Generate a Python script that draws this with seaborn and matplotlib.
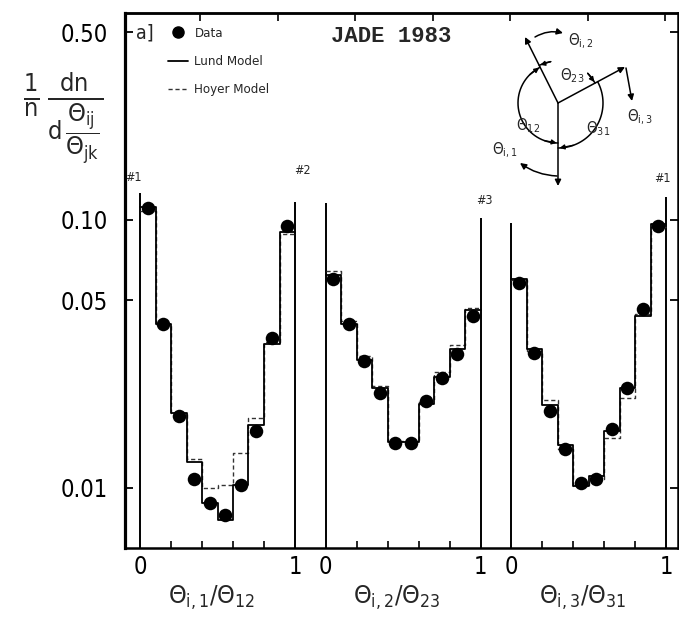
import numpy as np
import pandas as pd
import matplotlib
matplotlib.use("Agg")
import matplotlib.pyplot as plt
import matplotlib.transforms as mtransforms
from matplotlib.lines import Line2D
import seaborn as sns

# ---------------- data ----------------
bin_edges = [0.0, 0.1, 0.2, 0.3, 0.4, 0.5, 0.6, 0.7, 0.8, 0.9, 1.0]
bin_centers = [0.05, 0.15, 0.25, 0.35, 0.45, 0.55, 0.65, 0.75, 0.85, 0.95]
panel_offsets = [0.0, 1.197, 2.394]
panel_xlabels = [r"$\Theta_{\mathrm{i,1}}/\Theta_{\mathrm{12}}$",
                 r"$\Theta_{\mathrm{i,2}}/\Theta_{\mathrm{23}}$",
                 r"$\Theta_{\mathrm{i,3}}/\Theta_{\mathrm{31}}$"]

data_p1 = [0.110, 0.0409, 0.0186, 0.0108, 0.0088, 0.0079, 0.0103, 0.0163, 0.0363, 0.095]
data_p2 = [0.0602, 0.0409, 0.0298, 0.0226, 0.0147, 0.0147, 0.0211, 0.0257, 0.0316, 0.0439]
data_p3 = [0.0582, 0.0319, 0.0194, 0.0140, 0.0104, 0.0108, 0.0166, 0.0236, 0.0466, 0.095]

lund_p1 = [0.111, 0.0410, 0.0190, 0.0125, 0.0088, 0.0076, 0.0103, 0.0172, 0.0345, 0.090]
lund_p2 = [0.0620, 0.0410, 0.0300, 0.0235, 0.0148, 0.0148, 0.0205, 0.0260, 0.0330, 0.0460]
lund_p3 = [0.0600, 0.0330, 0.0203, 0.0144, 0.0102, 0.0111, 0.0163, 0.0236, 0.0439, 0.0966]

hoyer_p1 = [0.108, 0.0410, 0.0190, 0.0128, 0.0100, 0.0103, 0.0135, 0.0183, 0.0350, 0.088]
hoyer_p2 = [0.0645, 0.0420, 0.0310, 0.0240, 0.0150, 0.0150, 0.0210, 0.0270, 0.0340, 0.0470]
hoyer_p3 = [0.0595, 0.0325, 0.0212, 0.0140, 0.0102, 0.0108, 0.0154, 0.0217, 0.0445, 0.0940]

edge_line_tops = [(0.126, 0.116), (0.115, 0.101), (0.0975, 0.121)]

y_ticks = [0.01, 0.05, 0.10, 0.50]
y_ticklabels = ["0.01", "0.05", "0.10", "0.50"]
top_ticks = [0.39, 0.89, 1.39, 1.89, 2.39, 2.89, 3.39]

jet_tags = ["#1", "#2", "#3", "#1"]
jet_tag_x = [-0.045, 1.05, 2.22, 3.37]
jet_tag_y = [0.143, 0.152, 0.118, 0.142]

data_sets = [data_p1, data_p2, data_p3]
lund_sets = [lund_p1, lund_p2, lund_p3]
hoyer_sets = [hoyer_p1, hoyer_p2, hoyer_p3]

# ---------------- figure ----------------
sns.set_theme(style="white")
plt.rcParams["font.family"] = ["DejaVu Sans"]
plt.rcParams["font.stretch"] = "condensed"
plt.rcParams["mathtext.fontset"] = "dejavusans"

W, H = 679, 631
fig = plt.figure(figsize=(W / 100, H / 100), dpi=100)
L, R, T, B = 125, 678, 13, 548
ax = fig.add_axes([L / W, 1 - B / H, (R - L) / W, (B - T) / H])

# data points
rows = []
for k, vals in enumerate(data_sets):
    for c, v in zip(bin_centers, vals):
        rows.append({"x": c + panel_offsets[k], "y": v, "panel": k})
df = pd.DataFrame(rows)
sns.scatterplot(data=df, x="x", y="y", color="black", s=95, edgecolor="black",
                linewidth=0, ax=ax, zorder=5, label="Data", legend=False)

# model histograms
for k in range(3):
    xe = [e + panel_offsets[k] for e in bin_edges]
    yl = list(lund_sets[k]) + [lund_sets[k][-1]]
    yh = list(hoyer_sets[k]) + [hoyer_sets[k][-1]]
    sns.lineplot(x=xe, y=yh, drawstyle="steps-post", color="#333333", lw=1.0,
                 linestyle=(0, (3, 2)), estimator=None, sort=False, ax=ax,
                 label="Hoyer Model" if k == 0 else None, legend=False, zorder=3)
    sns.lineplot(x=xe, y=yl, drawstyle="steps-post", color="black", lw=1.3,
                 estimator=None, sort=False, ax=ax,
                 label="Lund Model" if k == 0 else None, legend=False, zorder=4)

ax.set_yscale("log")
ax.set_xlim((L - 140) / 155, (R - 140) / 155)
ax.set_ylim(0.005975, 0.5886)

# panel boundary lines
for k in range(3):
    ax.vlines([panel_offsets[k], panel_offsets[k] + 1], 0.005975,
              list(edge_line_tops[k]), color="black", lw=1.4, zorder=2)

# jet tags
for t, x, y in zip(jet_tags, jet_tag_x, jet_tag_y):
    ax.text(x, y, t, fontsize=9, ha="center", va="center")

# axes styling
for s in ax.spines.values():
    s.set_color("black")
    s.set_linewidth(1.8)
ax.spines["left"].set_linewidth(2.3)

ax.set_yticks(y_ticks)
ax.set_yticklabels(y_ticklabels)
ax.yaxis.set_minor_locator(matplotlib.ticker.NullLocator())
ax.tick_params(axis="y", which="major", direction="in", length=6, width=1.3,
               labelsize=17, pad=12, left=True, right=True, colors="black")

major_x = []
major_lab = []
minor_x = []
for off in panel_offsets:
    major_x += [off, off + 1]
    major_lab += ["0", "1"]
    minor_x += [off + 0.2, off + 0.4, off + 0.6, off + 0.8]
ax.set_xticks(major_x)
ax.set_xticklabels(major_lab)
ax.set_xticks(minor_x, minor=True)
ax.tick_params(axis="x", which="major", length=0, labelsize=17, pad=5, colors="black")
ax.tick_params(axis="x", which="minor", direction="in", length=5, width=1.2,
               bottom=True, colors="black")

top = ax.secondary_xaxis("top")
top.set_xticks(top_ticks)
top.set_xticklabels([])
top.tick_params(direction="in", length=6, width=1.2, colors="black")
top.spines["top"].set_linewidth(1.8)

ax.set_xlabel("")
ax.set_ylabel("")

blend = mtransforms.blended_transform_factory(ax.transData, ax.transAxes)
for k, lab in enumerate(panel_xlabels):
    ax.text(panel_offsets[k] + 0.46, -0.093, lab, transform=blend, ha="center",
            va="center", fontsize=18)

# y label (fraction)
fig.text(63 / W, 1 - 118 / H,
         r"$\frac{1}{\mathrm{n}}\,\frac{\mathrm{dn}}{\mathrm{d}\,\dfrac{\Theta_{\mathrm{ij}}}{\Theta_{\mathrm{jk}}}}$",
         fontsize=26, ha="center", va="center")

# legend
handles = [Line2D([], [], marker="o", color="black", linestyle="none", markersize=8),
           Line2D([], [], color="black", lw=1.3),
           Line2D([], [], color="#333333", lw=1.0, linestyle=(0, (3, 2)))]
leg = ax.legend(handles, ["Data", "Lund Model", "Hoyer Model"], loc="upper left",
                bbox_to_anchor=((168 - L) / (R - L), 1 - (27 - T) / (B - T)),
                frameon=False, handlelength=1.5, handletextpad=0.5,
                labelspacing=1.15, borderpad=0, borderaxespad=0,
                prop={"family": ["DejaVu Sans"], "size": 9.5})

fig.text(136 / W, 1 - 33 / H, "a]", fontsize=14, ha="left", va="center")
fig.text(391 / W, 1 - 37 / H, "JADE 1983", fontsize=16, ha="center", va="center",
         family=["Liberation Mono", "DejaVu Serif"], fontweight="bold")

# ---------------- inset diagram (pixel coordinates) ----------------
ov = fig.add_axes([0, 0, 1, 1], facecolor="none")
ov.set_xlim(0, W)
ov.set_ylim(H, 0)
ov.axis("off")
C = (558, 103)
arr = dict(arrowstyle="-|>", color="black", lw=1.1, mutation_scale=9, shrinkA=0, shrinkB=0)

def jet(end):
    ov.annotate("", xy=end, xytext=C, arrowprops=arr)

jet((525, 37))
jet((625, 67))
jet((558, 186))

def arc(r, a0, a1):
    a = np.radians(np.linspace(a0, a1, 40))
    xs = C[0] + r * np.cos(a)
    ys = C[1] - r * np.sin(a)
    ov.plot(xs, ys, color="black", lw=1.1)

def arc_head(r, a_from, a_to):
    p0 = (C[0] + r * np.cos(np.radians(a_from)), C[1] - r * np.sin(np.radians(a_from)))
    p1 = (C[0] + r * np.cos(np.radians(a_to)), C[1] - r * np.sin(np.radians(a_to)))
    ov.annotate("", xy=p1, xytext=p0, arrowprops=dict(arrowstyle="-|>", color="black",
                lw=1.0, mutation_scale=7, shrinkA=0, shrinkB=0))

arc(40, 116.6, 270)
arc_head(40, 250, 268)
arc_head(40, 135, 118)
arc(45, 28.3, -90)
arc_head(45, -70, -88)
arc(42, 28.3, 45)
arc(42, 100, 116.6)
arc_head(42, 100, 115)
arc_head(42, 45, 30)

ov.annotate("", xy=(563, 33), xytext=(535, 37),
            arrowprops=dict(arr, connectionstyle="arc3,rad=-0.2"))
ov.annotate("", xy=(632, 101), xytext=(626, 68), arrowprops=arr)
ov.annotate("", xy=(520, 163), xytext=(557, 176),
            arrowprops=dict(arr, connectionstyle="arc3,rad=-0.15"))

fs = 11
ov.text(581, 41, r"$\Theta_{\mathrm{i,2}}$", fontsize=fs, ha="center", va="center")
ov.text(572, 76, r"$\Theta_{\mathrm{23}}$", fontsize=fs, ha="center", va="center")
ov.text(528, 126, r"$\Theta_{\mathrm{12}}$", fontsize=fs, ha="center", va="center")
ov.text(598, 129, r"$\Theta_{\mathrm{31}}$", fontsize=fs, ha="center", va="center")
ov.text(640, 117, r"$\Theta_{\mathrm{i,3}}$", fontsize=fs, ha="center", va="center")
ov.text(505, 150, r"$\Theta_{\mathrm{i,1}}$", fontsize=fs, ha="center", va="center")

fig.savefig("out.png", dpi=100)
